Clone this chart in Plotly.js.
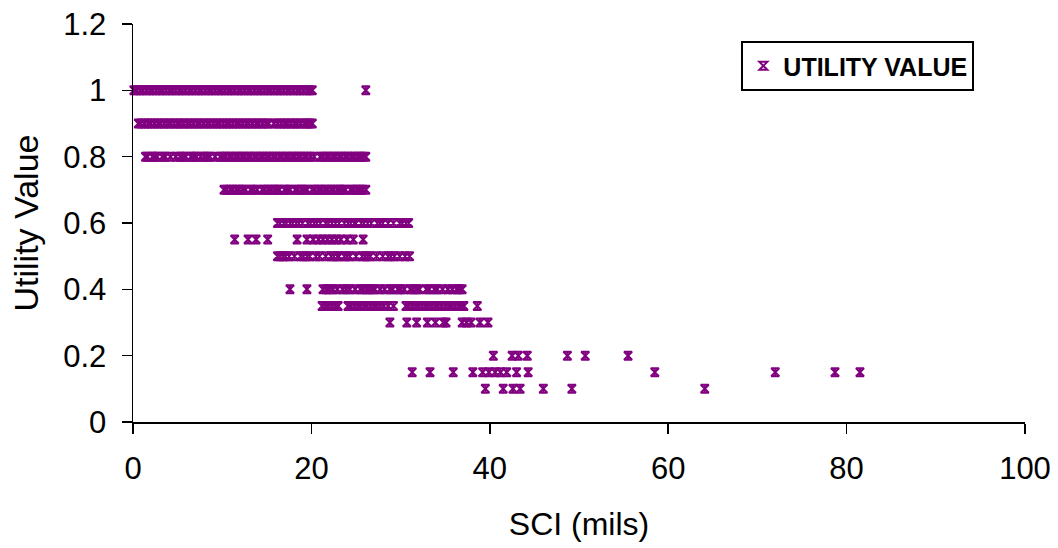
<!DOCTYPE html>
<html>
<head>
<meta charset="utf-8">
<script src="https://cdn.plot.ly/plotly-3.0.1.min.js"></script>
<style>
  html, body { margin: 0; padding: 0; background: #ffffff; }
  #chart { width: 1058px; height: 548px; }
</style>
</head>
<body>
<div id="chart"></div>
<script>
// ---- Data (SCI in mils vs. utility value) ----
const utilityLevels = [1.0, 0.9, 0.8, 0.7, 0.6, 0.55, 0.5, 0.4, 0.35, 0.3, 0.2, 0.15, 0.1];

const sciAt100 = [0.1,0.4,0.8,1.1,1.5,1.9,2.2,2.6,3.0,3.3,3.7,4.1,4.4,4.8,5.2,5.5,5.9,6.3,6.6,7.0,7.4,7.7,8.1,8.5,8.8,9.2,9.6,9.9,10.3,10.7,11.0,11.4,11.8,12.1,12.5,12.9,13.2,13.6,14.0,14.3,14.7,15.1,15.4,15.8,16.2,16.5,16.9,17.3,17.6,18.0,18.4,18.7,19.1,19.5,19.8,20.1,26.1];
const sciAt090 = [0.6,0.9,1.3,1.7,2.0,2.4,2.8,3.1,3.5,3.9,4.2,4.6,5.0,5.3,5.7,6.1,6.4,6.8,7.2,7.5,7.9,8.3,8.6,9.0,9.4,9.7,10.1,10.5,10.8,11.2,11.6,11.9,12.3,12.7,13.0,13.4,13.8,14.1,14.5,14.9,15.2,15.8,16.2,16.6,17.0,17.3,17.7,18.1,18.4,18.8,19.2,19.5,19.8,20.1];
const sciAt080 = [1.4,1.6,2.2,2.4,2.7,3.3,3.6,4.2,4.8,5.3,5.6,5.9,6.5,6.8,7.1,7.6,8.0,8.3,8.6,9.2,9.8,10.1,10.4,10.8,11.1,11.5,11.8,12.2,12.5,12.9,13.2,13.6,13.9,14.3,14.6,15.0,15.3,15.7,16.0,16.4,16.7,17.1,17.4,17.8,18.1,18.5,18.8,19.2,19.5,19.9,20.3,21.0,21.3,21.7,22.0,22.4,22.7,23.1,23.4,23.8,24.1,24.5,24.8,25.2,25.5,25.8,26.1];
const sciAt070 = [10.2,10.5,10.9,11.2,11.6,11.9,12.3,12.6,13.2,13.5,13.9,14.5,14.8,15.2,15.5,15.9,16.2,16.4,17.0,17.3,17.6,18.2,18.5,18.9,19.2,19.5,20.1,20.4,20.8,21.1,21.5,21.8,22.2,22.5,22.9,23.2,23.5,23.8,24.4,24.7,25.1,25.4,25.7,26.1];
const sciAt060 = [16.2,16.5,16.9,17.2,17.6,17.9,18.3,18.6,19.0,19.6,19.9,20.3,20.6,21.0,21.6,21.9,22.3,22.7,23.1,23.7,24.1,24.4,24.8,25.0,25.6,25.9,26.3,26.7,27.4,27.7,28.0,28.6,29.2,29.9,30.2,30.6,30.9];
const sciAt055 = [11.4,12.9,13.8,15.1,18.4,19.5,20.2,20.8,21.3,21.8,22.3,22.8,23.3,24.0,24.7,25.8];
const sciAt050 = [16.2,16.5,16.8,17.1,17.5,18.1,18.8,19.1,19.5,19.8,20.5,20.9,21.6,22.2,22.5,22.9,23.1,23.7,24.0,24.3,25.0,25.7,26.0,26.3,26.6,27.3,28.0,28.6,28.9,29.3,29.9,30.5,31.0];
const sciAt040 = [17.6,19.5,21.3,21.7,22.0,22.4,22.9,23.5,23.9,24.3,24.9,25.5,25.8,26.2,26.5,26.8,27.1,27.7,28.2,28.8,29.1,29.7,30.0,30.4,31.1,31.4,31.8,32.1,32.9,33.2,33.8,34.1,34.7,35.3,35.8,36.3,36.6,36.9];
const sciAt035 = [21.2,21.6,21.9,22.3,22.7,23.0,24.1,24.4,24.8,25.2,25.5,25.9,26.2,26.6,27.0,27.3,27.7,28.1,28.6,29.2,30.6,30.9,31.3,31.7,32.0,32.4,32.8,33.1,33.5,33.9,34.2,34.6,35.0,35.4,35.7,36.1,36.5,36.8,37.1,38.6];
const sciAt030 = [28.8,30.7,31.8,33.0,33.9,34.8,35.1,36.9,37.4,37.9,38.9,39.8];
const sciAt020 = [40.4,42.5,43.2,44.2,48.7,50.7,55.5];
const sciAt015 = [31.3,33.3,35.9,38.1,39.2,39.9,40.6,41.2,41.9,43.0,44.3,58.5,72.0,78.7,81.5];
const sciAt010 = [39.5,41.5,42.6,43.4,46.0,49.2,64.1];

const seriesName = "UTILITY VALUE";
const xTickValues = [0, 20, 40, 60, 80, 100];
const yTickValues = [0, 0.2, 0.4, 0.6, 0.8, 1, 1.2];

// ---- Build the x / y arrays from the rows above ----
const sciRows = [sciAt100, sciAt090, sciAt080, sciAt070, sciAt060, sciAt055, sciAt050,
                 sciAt040, sciAt035, sciAt030, sciAt020, sciAt015, sciAt010];
const xs = [], ys = [];
sciRows.forEach((row, i) => {
  row.forEach(v => { xs.push(v); ys.push(utilityLevels[i]); });
});

const purple = "#800080";
const fontFamily = "'Liberation Sans', Arial, sans-serif";

// Excel-style "star" marker: hourglass outline (X with top/bottom bars) + vertical stroke
const traceStar = {
  type: "scatter", mode: "markers", name: seriesName,
  x: xs, y: ys, cliponaxis: false, legendgroup: "u",
  marker: { symbol: "hourglass-open", size: 8, color: purple, line: { color: purple, width: 2 } }
};
const traceBar = {
  type: "scatter", mode: "markers", name: seriesName, showlegend: false,
  x: xs, y: ys, cliponaxis: false, legendgroup: "u",
  marker: { symbol: "line-ns-open", size: 6, color: purple, line: { color: purple, width: 2 } }
};

const layout = {
  width: 1058, height: 548,
  margin: { l: 133, r: 33, t: 24, b: 126, pad: 0 },
  paper_bgcolor: "#ffffff", plot_bgcolor: "#ffffff",
  font: { family: fontFamily, color: "#000000" },
  showlegend: true,
  legend: {
    x: 0.682, y: 0.957, xanchor: "left", yanchor: "top",
    bgcolor: "#ffffff", bordercolor: "#000000", borderwidth: 2,
    font: { family: fontFamily, size: 25, color: "#000000", weight: "bold" }
  },
  xaxis: {
    range: [0, 100], tickvals: xTickValues, ticktext: xTickValues.map(String),
    showgrid: false, zeroline: false, showline: true, linecolor: "#000000", linewidth: 1.5,
    ticks: "outside", ticklen: 10, tickwidth: 1.5, tickcolor: "#000000",
    ticklabelstandoff: 8,
    tickfont: { family: fontFamily, size: 31, color: "#000000" },
    title: { text: "SCI (mils)", font: { family: fontFamily, size: 32, color: "#000000" }, standoff: 28 },
    fixedrange: true
  },
  yaxis: {
    range: [0, 1.2], tickvals: yTickValues, ticktext: ["0", "0.2", "0.4", "0.6", "0.8", "1", "1.2"],
    showgrid: false, zeroline: false, showline: true, linecolor: "#000000", linewidth: 1.5,
    ticks: "outside", ticklen: 10, tickwidth: 1.5, tickcolor: "#000000",
    ticklabelstandoff: 9,
    tickfont: { family: fontFamily, size: 31, color: "#000000" },
    title: { text: "Utility Value", font: { family: fontFamily, size: 34, color: "#000000" }, standoff: 14 },
    fixedrange: true
  }
};

Plotly.newPlot("chart", [traceStar, traceBar], layout, { staticPlot: true, displayModeBar: false });
</script>
</body>
</html>
